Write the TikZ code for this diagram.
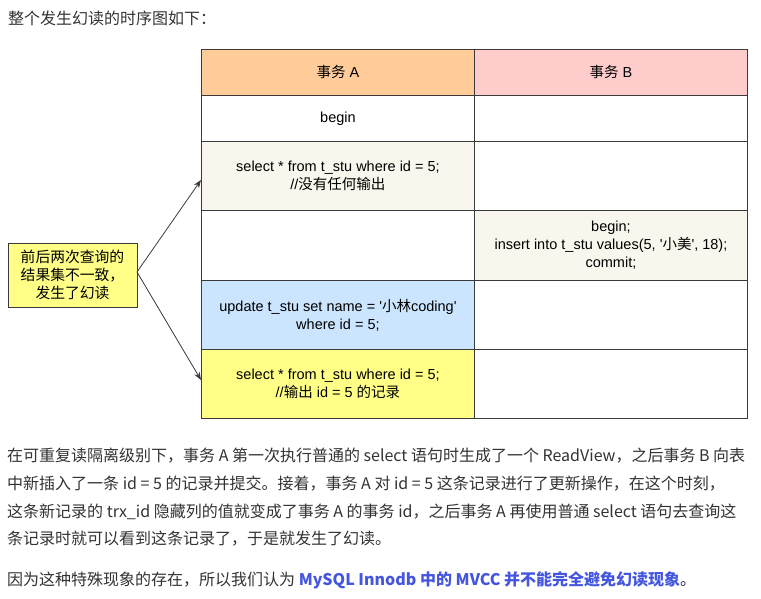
\documentclass[tikz,border=0pt]{standalone}
\usepackage{fontspec}
\setmainfont{Liberation Sans}[Ligatures=TeXOff]
\newfontfamily\cjk{Noto Sans CJK SC}
\usetikzlibrary{arrows.meta}
\definecolor{hdrA}{HTML}{FFCC99}
\definecolor{hdrB}{HTML}{FFCCCC}
\definecolor{beige}{HTML}{F9F7ED}
\definecolor{lblue}{HTML}{CCE5FF}
\definecolor{lyellow}{HTML}{FFFF88}
\definecolor{gridc}{HTML}{3A3A3A}
\definecolor{txt}{HTML}{333333}
\definecolor{linkblue}{HTML}{4455E0}
\tikzset{
  cell/.style={draw=gridc, line width=0.9pt, anchor=north west, minimum width=273pt,
    inner sep=0pt, align=center, font=\fontsize{14.5}{18}\selectfont, text=black},
  callout/.style={draw=gridc, line width=0.7pt, fill=lyellow, minimum width=129pt, minimum height=64pt,
    inner sep=0pt, align=center, font=\cjk\fontsize{14.8}{18}\selectfont},
  arr/.style={draw=gridc, line width=0.8pt, -{Stealth[length=8pt,width=6pt]}},
  para/.style={anchor=west, inner sep=0pt, text=txt, font=\cjk\fontsize{16}{19}\selectfont}
}
\begin{document}
\begin{tikzpicture}[x=1pt,y=-1pt]
\useasboundingbox (0,0) rectangle (761,599);
\fill[white] (0,0) rectangle (761,599);
\node[para] (title) at (8,18) {整个发生幻读的时序图如下：};
% table
\node[cell, fill=hdrA, minimum height=46pt] (hA) at (201,49) {{\cjk 事务} A};
\node[cell, fill=hdrB, minimum height=46pt] (hB) at (474,49) {{\cjk 事务} B};
\node[cell, fill=white, minimum height=46pt] (r1A) at (201,95) {begin};
\node[cell, fill=white, minimum height=46pt] (r1B) at (474,95) {};
\node[cell, fill=beige, minimum height=69pt] (r2A) at (201,141) {select * from t\_stu where id = 5;\\//{\cjk 没有任何输出}};
\node[cell, fill=white, minimum height=69pt] (r2B) at (474,141) {};
\node[cell, fill=white, minimum height=70pt] (r3A) at (201,210) {};
\node[cell, fill=beige, minimum height=70pt] (r3B) at (474,210) {begin;\\insert into t\_stu values(5, '{\cjk 小美}', 18);\\commit;};
\node[cell, fill=lblue, minimum height=69pt] (r4A) at (201,280) {update t\_stu set name = '{\cjk 小林}coding'\\where id = 5;};
\node[cell, fill=white, minimum height=69pt] (r4B) at (474,280) {};
\node[cell, fill=lyellow, minimum height=69pt] (r5A) at (201,349) {select * from t\_stu where id = 5;\\//{\cjk 输出} id = 5 {\cjk 的记录}};
\node[cell, fill=white, minimum height=69pt] (r5B) at (474,349) {};
% callout
\node[callout] (note) at (72.5,275) {前后两次查询的\\结果集不一致，\\发生了幻读};
\coordinate (src) at (137,272);
\coordinate (t1) at (201,180);
\coordinate (t2) at (201,380);
\draw[arr] (src) -- (t1);
\draw[arr] (src) -- (t2);
% paragraphs
\node[para] (p1) at (7,456) {在可重复读隔离级别下，事务 A 第一次执行普通的 select 语句时生成了一个 ReadView，之后事务 B 向表};
\node[para] (p2) at (7,484) {中新插入了一条 id = 5 的记录并提交。接着，事务 A 对 id = 5 这条记录进行了更新操作，在这个时刻，};
\node[para] (p3) at (7,512) {这条新记录的 trx\_id 隐藏列的值就变成了事务 A 的事务 id，之后事务 A 再使用普通 select 语句去查询这};
\node[para] (p4) at (7,539) {条记录时就可以看到这条记录了，于是就发生了幻读。};
\node[para] (p5) at (7,580) {因为这种特殊现象的存在，所以我们认为 {\color{linkblue}\bfseries MySQL Innodb 中的 MVCC 并不能完全避免幻读现象}。};
\end{tikzpicture}
\end{document}
